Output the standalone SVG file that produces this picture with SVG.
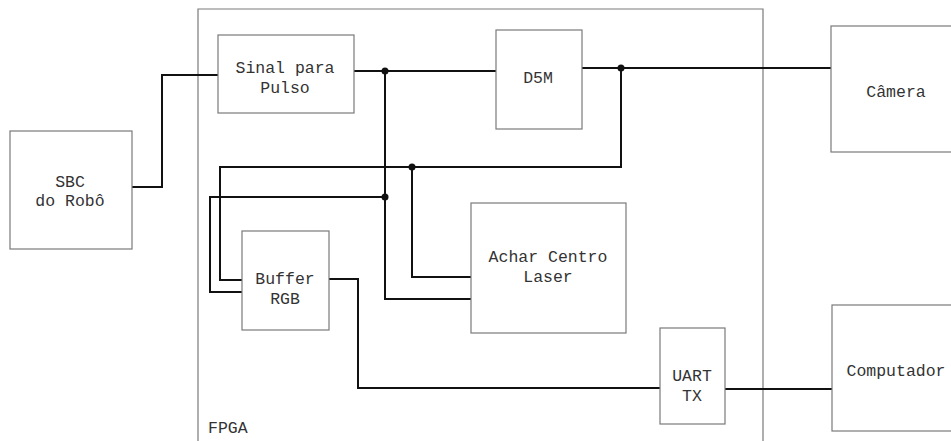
<svg xmlns="http://www.w3.org/2000/svg" width="951" height="441" viewBox="0 0 951 441">
<style>
.box{fill:#fff;stroke:#7a7a7a;stroke-width:1.2}
.frame{fill:none;stroke:#7a7a7a;stroke-width:1.2}
.t{font-family:"Liberation Mono","Courier New",monospace;font-size:16.5px;fill:#333;text-anchor:middle}
.tl{font-family:"Liberation Mono","Courier New",monospace;font-size:16.5px;fill:#333}
.w{fill:none;stroke:#111;stroke-width:2}
.dot{fill:#111}
</style>
<rect width="951" height="441" fill="#fff"/>
<g id="fpga">
<path class="frame" d="M198,450 V9 H763 V450"/>
<text class="tl" x="208" y="433">FPGA</text>
</g>
<g id="connectors">
<path class="w" d="M132,187 H162 V75 H218"/>
<path class="w" d="M354,71 H496"/>
<path class="w" d="M582,68 H831"/>
<path class="w" d="M621,68 V167 H220 V280 H242"/>
<path class="w" d="M384,197 H210 V292 H242"/>
<path class="w" d="M385,71 V299 H471"/>
<path class="w" d="M412,167 V277 H471"/>
<path class="w" d="M329,279 H358 V388 H660"/>
<path class="w" d="M725,389 H832"/>
<circle class="dot" cx="385" cy="71" r="3.5"/>
<circle class="dot" cx="621" cy="68" r="3.5"/>
<circle class="dot" cx="412" cy="167" r="3.5"/>
<circle class="dot" cx="385" cy="197" r="3.5"/>
</g>
<g id="sbc">
<rect class="box" x="10" y="131" width="122" height="118"/>
<text class="t" x="70" y="187">SBC</text>
<text class="t" x="70" y="206">do Robô</text>
</g>
<g id="sinal">
<rect class="box" x="218" y="35" width="136" height="78"/>
<text class="t" x="285" y="73">Sinal para</text>
<text class="t" x="285" y="93">Pulso</text>
</g>
<g id="d5m">
<rect class="box" x="496" y="30" width="86" height="99"/>
<text class="t" x="538" y="83">D5M</text>
</g>
<g id="camera">
<rect class="box" x="831" y="26" width="130" height="126"/>
<text class="t" x="896" y="97">Câmera</text>
</g>
<g id="buffer">
<rect class="box" x="242" y="231" width="87" height="99"/>
<text class="t" x="285" y="284">Buffer</text>
<text class="t" x="285" y="304">RGB</text>
</g>
<g id="achar">
<rect class="box" x="471" y="203" width="155" height="130"/>
<text class="t" x="548" y="262">Achar Centro</text>
<text class="t" x="548" y="282">Laser</text>
</g>
<g id="uart">
<rect class="box" x="660" y="328" width="65" height="96"/>
<text class="t" x="692" y="381">UART</text>
<text class="t" x="692" y="401">TX</text>
</g>
<g id="computador">
<rect class="box" x="832" y="305" width="130" height="126"/>
<text class="t" x="896" y="376">Computador</text>
</g>
</svg>
